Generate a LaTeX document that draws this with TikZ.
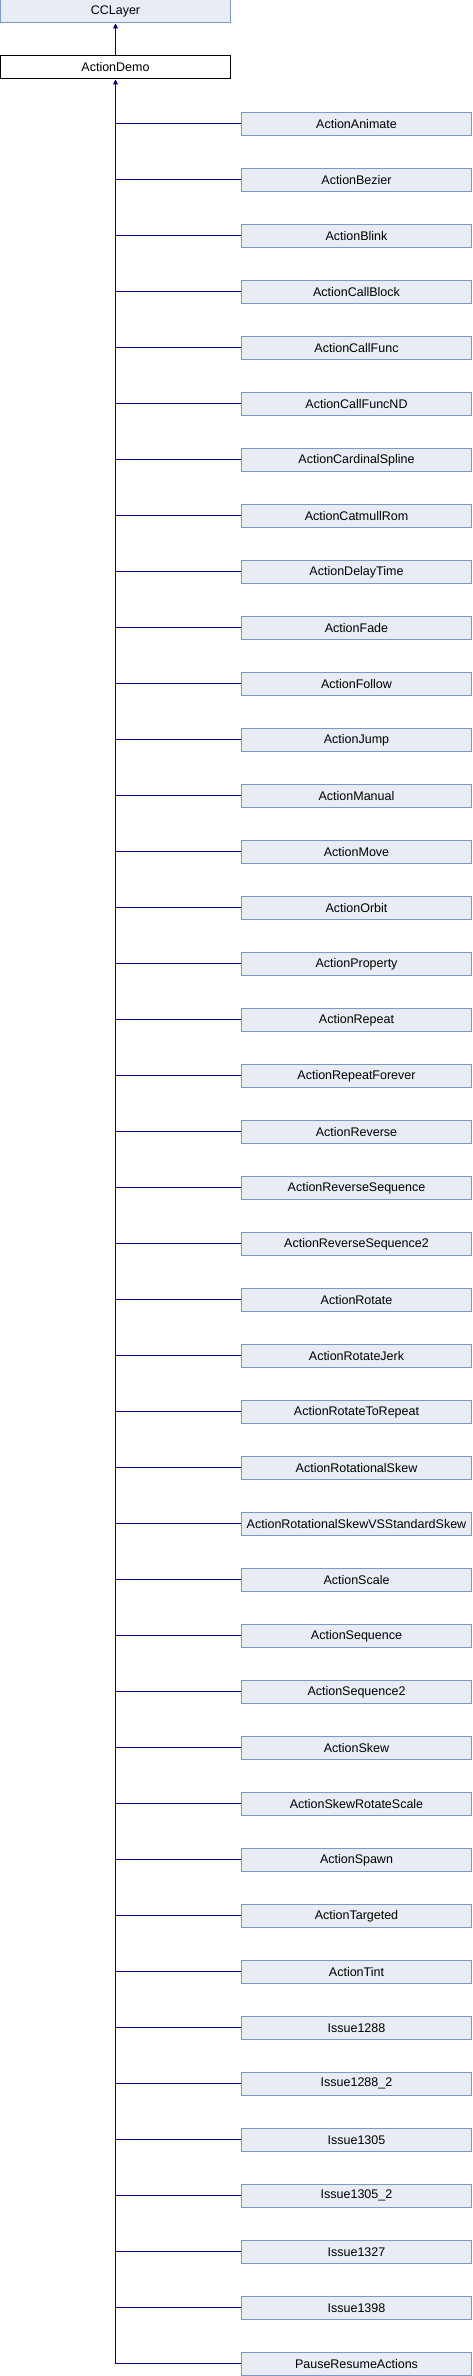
\documentclass[tikz,border=0pt]{standalone}
\usepackage{fontspec}
\setmainfont{Liberation Sans}
\usetikzlibrary{arrows.meta,positioning}
\definecolor{boxfill}{HTML}{E8ECF4}
\definecolor{boxline}{HTML}{7F98CC}
\definecolor{linkblue}{HTML}{000080}
\begin{document}
\begin{tikzpicture}[x=1pt,y=-1pt,
    cls/.style={draw=boxline,fill=boxfill,line width=1pt,minimum width=230pt,minimum height=23pt,inner sep=0pt,font=\fontsize{12.5}{14}\selectfont},
    cur/.style={cls,draw=black,fill=white},
    link/.style={draw=linkblue,line width=1pt},
    inh/.style={link,-{Triangle[length=5pt,width=5pt]}}]
  \useasboundingbox (0,0) rectangle (472,2376);
  \node[cls] (layer) at (115.5,11.5) {CCLayer};
  \node[cur] (demo) at (115.5,67.5) {ActionDemo};
  \draw[inh] (demo.north) -- (layer.south);
  \foreach \name [count=\i from 0] in {ActionAnimate,ActionBezier,ActionBlink,ActionCallBlock,ActionCallFunc,ActionCallFuncND,ActionCardinalSpline,ActionCatmullRom,ActionDelayTime,ActionFade,ActionFollow,ActionJump,ActionManual,ActionMove,ActionOrbit,ActionProperty,ActionRepeat,ActionRepeatForever,ActionReverse,ActionReverseSequence,ActionReverseSequence2,ActionRotate,ActionRotateJerk,ActionRotateToRepeat,ActionRotationalSkew,ActionRotationalSkewVSStandardSkew,ActionScale,ActionSequence,ActionSequence2,ActionSkew,ActionSkewRotateScale,ActionSpawn,ActionTargeted,ActionTint,Issue1288,Issue1288\_2,Issue1305,Issue1305\_2,Issue1327,Issue1398,PauseResumeActions}{
    \node[cls] (c\i) at (356.5,{123.8+56*\i}) {\name};
    \draw[link] (c\i.west -| demo.south) -- (c\i.west);
  }
  \draw[inh] (c40.west -| demo.south) -- (demo.south);
\end{tikzpicture}
\end{document}
